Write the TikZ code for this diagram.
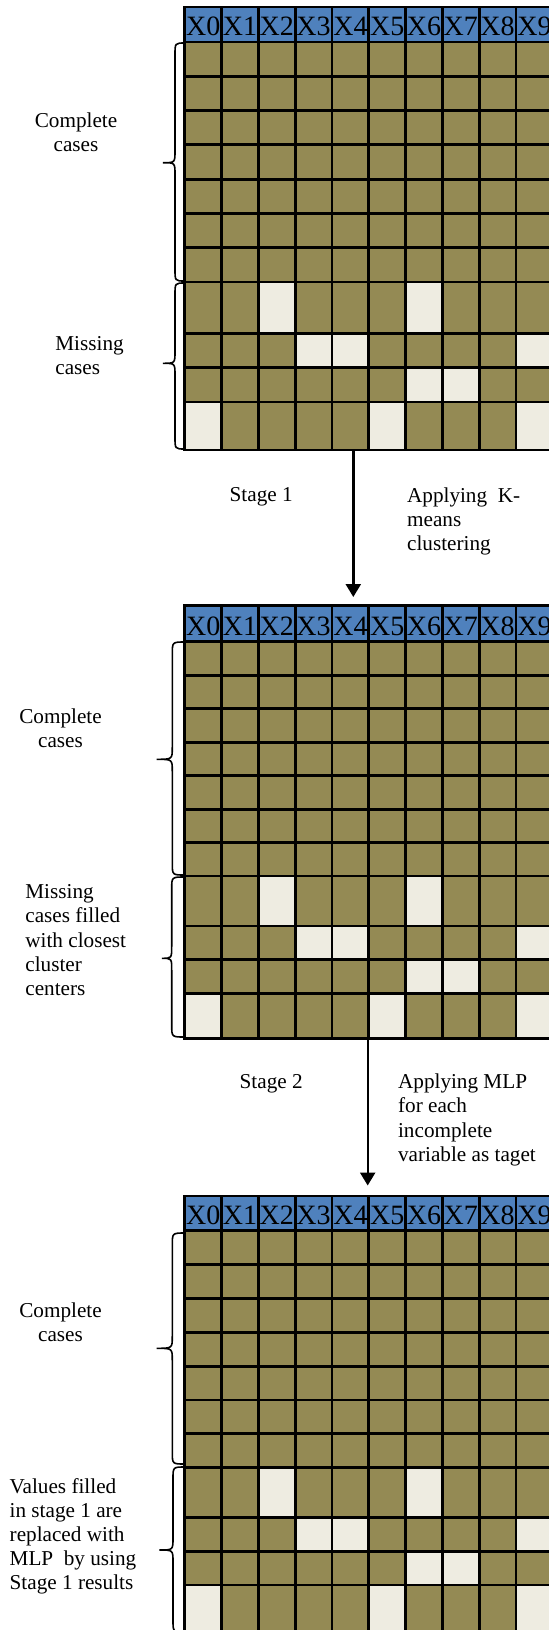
\documentclass[tikz,border=0pt]{standalone}
\usepackage{fontspec}
\setmainfont{Liberation Serif}
\usetikzlibrary{arrows.meta}

\definecolor{hdrblue}{HTML}{4F81BD}
\definecolor{cellolive}{HTML}{948A54}
\definecolor{cellempty}{HTML}{EEECE1}

\tikzset{
  gridline/.style={line width=1.45pt, black, line cap=rect},
  bracepath/.style={line width=0.8pt, black},
  flowarrow/.style={line width=1.2pt, black, -{Triangle[width=7.5pt,length=6.5pt]}},
  hdrtext/.style={font=\fontsize{14}{16}\selectfont, inner sep=0pt, anchor=base},
  bodytext/.style={font=\fontsize{10.6}{12.1}\selectfont, inner sep=0pt},
}

% A data table: 10 variables, 7 complete rows and 4 rows with gaps.
% #1 name, #2 top, #3 header height, #4 complete row height,
% #5 first gap row height, #6 middle gap row height, #7 last row height
\newcommand\datagrid[7]{%
  \pgfmathsetmacro\gyA{#2}%
  \pgfmathsetmacro\gyB{\gyA+#3}%
  \pgfmathsetmacro\gyC{\gyB+7*#4}%
  \pgfmathsetmacro\gyD{\gyC+#5}%
  \pgfmathsetmacro\gyE{\gyD+#6}%
  \pgfmathsetmacro\gyF{\gyE+#6}%
  \pgfmathsetmacro\gyG{\gyF+#7}%
  \fill[hdrblue] (\gxL,\gyA) rectangle (\gxR,\gyB);
  \fill[cellolive] (\gxL,\gyB) rectangle (\gxR,\gyG);
  \foreach \c/\ya/\yb in {2/\gyC/\gyD, 6/\gyC/\gyD,
                          3/\gyD/\gyE, 4/\gyD/\gyE, 9/\gyD/\gyE,
                          6/\gyE/\gyF, 7/\gyE/\gyF,
                          0/\gyF/\gyG, 5/\gyF/\gyG, 9/\gyF/\gyG}
    \fill[cellempty] ({\gxL+\c*\gw},\ya) rectangle ({\gxL+(\c+1)*\gw},\yb);
  \foreach \y in {\gyA,\gyB,\gyC,\gyD,\gyE,\gyF,\gyG}
    \draw[gridline] (\gxL,\y) -- (\gxR,\y);
  \foreach \k in {1,...,6}
    \draw[gridline] (\gxL,{\gyB+\k*#4}) -- (\gxR,{\gyB+\k*#4});
  \foreach \c in {0,...,10}
    \draw[gridline] ({\gxL+\c*\gw},\gyA) -- ({\gxL+\c*\gw},\gyG);
  \foreach \c in {0,...,9}
    \node[hdrtext] (#1h\c) at ({\gxL+(\c+0.5)*\gw},{\gyB-6.7}) {X\c};
}

% Curly brace opening to the right: #1 end x, #2 spine x, #3 tip x,
% #4 top y, #5 tip y, #6 bottom y, #7 bend size
\newcommand\sidebrace[7]{%
  \draw[bracepath] (#1,#4) .. controls (#2,#4) .. (#2,{#4+#7})
    -- (#2,{#5-#7}) .. controls (#2,#5) .. (#3,#5)
    .. controls (#2,#5) .. (#2,{#5+#7})
    -- (#2,{#6-#7}) .. controls (#2,#6) .. (#1,#6);
}

\begin{document}
\begin{tikzpicture}[x=0.5pt,y=-0.5pt]
  \clip (0,0) rectangle (549,1630);
  \fill[white] (0,0) rectangle (549,1630);
  \def\gxL{184.8}
  \def\gw{36.8}
  \pgfmathsetmacro\gxR{\gxL+10*\gw}

  % braces
  \sidebrace{185}{175}{163}{43}{162.7}{281}{12}
  \sidebrace{185}{175}{163}{283}{363.3}{449}{12}
  \sidebrace{185}{172.3}{156.7}{642}{759.3}{875}{12}
  \sidebrace{185}{171.7}{162}{877}{958.3}{1037}{12}
  \sidebrace{185}{172.3}{156.7}{1233}{1348.3}{1464}{12}
  \sidebrace{185}{173}{159.3}{1467}{1550}{1632}{12}

  % tables
  \datagrid{ga}{7}{35}{34.29}{51.5}{34.25}{48}
  \datagrid{gb}{605.7}{36}{33.47}{50}{33.65}{45}
  \datagrid{gc}{1196}{34.7}{33.86}{50}{33.65}{60}

  % stage arrows
  \coordinate (s1from) at (353.3,450);
  \coordinate (s1to) at (353.3,597);
  \draw[flowarrow] (s1from) -- (s1to);
  \coordinate (s2from) at (367.7,1038.3);
  \coordinate (s2to) at (367.7,1185.5);
  \draw[flowarrow] (s2from) -- (s2to);

  % labels, first table
  \node[bodytext, anchor=north, align=center] (la1) at (76,110.4)
    {\strut Complete\\cases};
  \node[bodytext, anchor=north west, align=left] (la2) at (55,333.1)
    {\strut Missing\\cases};
  \node[bodytext, anchor=base west] (st1) at (229.3,501.7) {Stage 1};
  \node[bodytext, anchor=north west, align=left] (op1) at (406.7,484.8)
    {\strut Applying\ \ K-\\means\\clustering};

  % labels, second table
  \node[bodytext, anchor=north, align=center] (lb1) at (60.5,706.4)
    {\strut Complete\\cases};
  \node[bodytext, anchor=north west, align=left] (lb2) at (25,881.4)
    {\strut Missing\\cases filled\\with closest\\cluster\\centers};
  \node[bodytext, anchor=base west] (st2) at (239.3,1088.3) {Stage 2};
  \node[bodytext, anchor=north west, align=left] (op2) at (397.7,1071.4)
    {\strut Applying MLP\\for each\\incomplete\\variable as taget};

  % labels, third table
  \node[bodytext, anchor=north, align=center] (lc1) at (60.5,1299.8)
    {\strut Complete\\cases};
  \node[bodytext, anchor=north west, align=left] (lc2) at (9.3,1475.8)
    {\strut Values filled\\in stage 1 are\\replaced with\\MLP\ \ by using\\Stage 1 results};
\end{tikzpicture}
\end{document}
